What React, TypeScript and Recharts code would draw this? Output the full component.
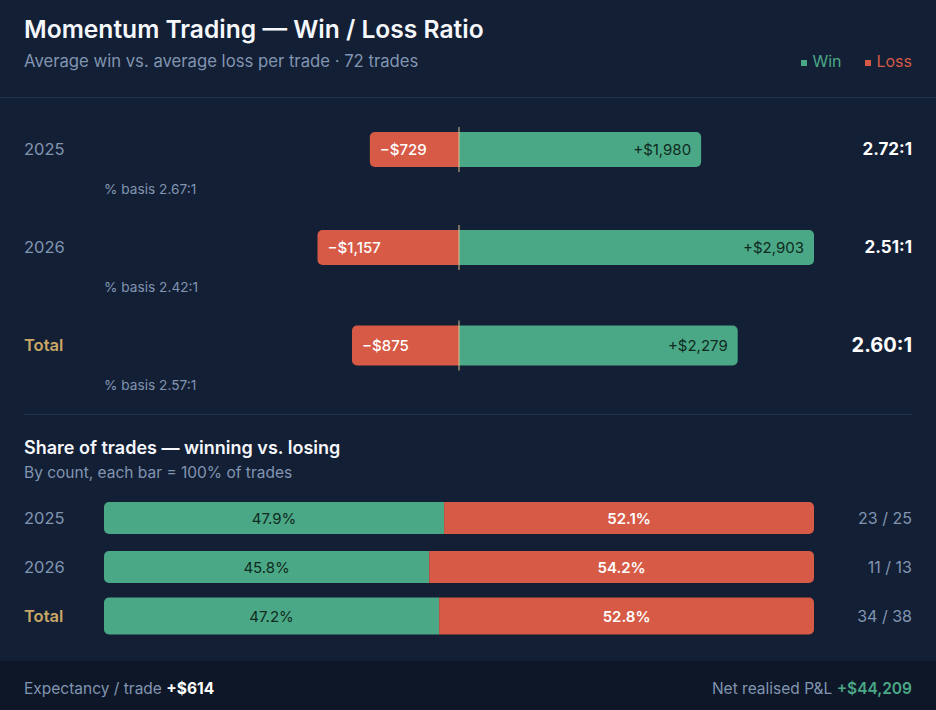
import { BarChart, Bar, XAxis, YAxis } from 'recharts'

const categories = ['2025', '2026', 'Total']
const avgWin = [1980, 2903, 2279]
const avgLoss = [729, 1157, 875]
const ratios = ['2.72:1', '2.51:1', '2.60:1']
const pctBasis = ['2.67:1', '2.42:1', '2.57:1']
const winShare = [47.9, 45.8, 47.2]
const lossShare = [52.1, 54.2, 52.8]
const winCount = [23, 11, 34]
const lossCount = [25, 13, 38]
const totalTrades = 72
const expectancy = 614
const netPnl = 44209

const BG = '#131f35'
const FOOTER_BG = '#0e1727'
const DIVIDER = '#24324b'
const GREEN = '#4aa886'
const RED = '#d65a46'
const MUTED = '#8195b1'
const GOLD = '#c9a866'
const ZERO_LINE = '#d8c08e'
const FONT = 'Inter, "Noto Sans", sans-serif'

const ratioData = categories.map((name, i) => ({ name, loss: -avgLoss[i], win: avgWin[i] }))
const shareData = categories.map((name, i) => ({ name, win: winShare[i], loss: lossShare[i] }))
const maxAbs = Math.max(...avgWin, ...avgLoss)

const money = (v: number) => `$${Math.abs(v).toLocaleString('en-US')}`

// rect path with separate left / right corner radius
function roundedRect(x: number, y: number, w: number, h: number, rl: number, rr: number) {
  return `M${x + rl},${y} H${x + w - rr} A${rr},${rr} 0 0 1 ${x + w},${y + rr} V${y + h - rr} A${rr},${rr} 0 0 1 ${x + w - rr},${y + h} H${x + rl} A${rl},${rl} 0 0 1 ${x},${y + h - rl} V${y + rl} A${rl},${rl} 0 0 1 ${x + rl},${y} Z`
}

// normalise negative widths and make the Total row a bit taller
// eslint-disable-next-line @typescript-eslint/no-explicit-any
function box(props: any) {
  let { x, y, width, height } = props
  if (width < 0) { x += width; width = -width }
  if (props.payload?.name === 'Total') { y -= 2.5; height += 5 }
  return { x, y, width, height }
}

// eslint-disable-next-line @typescript-eslint/no-explicit-any
function LossShape(props: any) {
  const { x, y, width, height } = box(props)
  return (
    <g>
      <path d={roundedRect(x, y, width, height, 5, 0)} fill={RED} />
      <text x={x + 10} y={y + height / 2} dominantBaseline="central" fill="#fff" fontSize={15} fontWeight={500} fontFamily={FONT}>
        {`−${money(props.payload.loss)}`}
      </text>
    </g>
  )
}

// eslint-disable-next-line @typescript-eslint/no-explicit-any
function WinShape(props: any) {
  const { x, y, width, height } = box(props)
  return (
    <g>
      <path d={roundedRect(x, y, width, height, 0, 5)} fill={GREEN} />
      <text x={x + width - 10} y={y + height / 2} dominantBaseline="central" textAnchor="end" fill="#0f2a20" fontSize={15} fontFamily={FONT}>
        {`+${money(props.payload.win)}`}
      </text>
      <line x1={x} x2={x} y1={y - 5} y2={y + height + 5} stroke={ZERO_LINE} strokeWidth={1} />
    </g>
  )
}

// eslint-disable-next-line @typescript-eslint/no-explicit-any
function ShareWinShape(props: any) {
  const { x, y, width, height } = box(props)
  return (
    <g>
      <path d={roundedRect(x, y, width, height, 5, 0)} fill={GREEN} />
      <text x={x + width / 2} y={y + height / 2} dominantBaseline="central" textAnchor="middle" fill="#0f2a20" fontSize={15} fontFamily={FONT}>
        {`${props.payload.win.toFixed(1)}%`}
      </text>
    </g>
  )
}

// eslint-disable-next-line @typescript-eslint/no-explicit-any
function ShareLossShape(props: any) {
  const { x, y, width, height } = box(props)
  return (
    <g>
      <path d={roundedRect(x, y, width, height, 0, 5)} fill={RED} />
      <text x={x + width / 2} y={y + height / 2} dominantBaseline="central" textAnchor="middle" fill="#fff" fontSize={15} fontWeight={600} fontFamily={FONT}>
        {`${props.payload.loss.toFixed(1)}%`}
      </text>
    </g>
  )
}

// eslint-disable-next-line @typescript-eslint/no-explicit-any
function RatioTick({ y, payload }: any) {
  const i = categories.indexOf(payload.value)
  const total = payload.value === 'Total'
  return (
    <g fontFamily={FONT}>
      <text x={24} y={y} dominantBaseline="central" fill={total ? GOLD : MUTED} fontSize={16.5} fontWeight={total ? 600 : 400}>{payload.value}</text>
      <text x={104} y={y + 40} dominantBaseline="central" fill={MUTED} fontSize={13.7}>{`% basis ${pctBasis[i]}`}</text>
      <text x={912} y={y} dominantBaseline="central" textAnchor="end" fill="#fff" fontSize={total ? 20 : 17} fontWeight={700}>{ratios[i]}</text>
    </g>
  )
}

// eslint-disable-next-line @typescript-eslint/no-explicit-any
function ShareTick({ y, payload }: any) {
  const i = categories.indexOf(payload.value)
  const total = payload.value === 'Total'
  return (
    <g fontFamily={FONT}>
      <text x={24} y={y} dominantBaseline="central" fill={total ? GOLD : MUTED} fontSize={16.5} fontWeight={total ? 600 : 400}>{payload.value}</text>
      <text x={912} y={y} dominantBaseline="central" textAnchor="end" fill={MUTED} fontSize={16}>{`${winCount[i]} / ${lossCount[i]}`}</text>
    </g>
  )
}

export default function App() {
  return (
    <div style={{ position: 'relative', width: 936, height: 710, background: BG, fontFamily: FONT, overflow: 'hidden' }}>
      <style>{'body{margin:0}'}</style>

      <div style={{ position: 'absolute', left: 24, top: 14, fontSize: 24.6, lineHeight: '30px', fontWeight: 600, color: '#f5f7fb' }}>
        Momentum Trading — Win / Loss Ratio
      </div>
      <div style={{ position: 'absolute', left: 24, top: 50, fontSize: 16.7, lineHeight: '22px', color: MUTED }}>
        {`Average win vs. average loss per trade · ${totalTrades} trades`}
      </div>
      <div style={{ position: 'absolute', right: 24, top: 50, fontSize: 16, lineHeight: '22px', display: 'flex', gap: 24 }}>
        <span style={{ color: GREEN }}><span style={{ display: 'inline-block', width: 6, height: 6, background: GREEN, marginRight: 5, verticalAlign: 'middle' }} />Win</span>
        <span style={{ color: RED }}><span style={{ display: 'inline-block', width: 6, height: 6, background: RED, marginRight: 5, verticalAlign: 'middle' }} />Loss</span>
      </div>
      <div style={{ position: 'absolute', left: 0, right: 0, top: 97, height: 1, background: DIVIDER }} />

      <div style={{ position: 'absolute', left: 0, top: 100 }}>
        <BarChart width={936} height={294} data={ratioData} layout="vertical" stackOffset="sign" margin={{ top: 0, right: 122, bottom: 0, left: 24 }}>
          <XAxis type="number" domain={[-maxAbs, maxAbs]} hide />
          <YAxis type="category" dataKey="name" width={80} axisLine={false} tickLine={false} tick={(p) => <RatioTick {...p} />} />
          <Bar dataKey="loss" stackId="r" barSize={35} shape={(p: unknown) => <LossShape {...(p as object)} />} isAnimationActive={false} />
          <Bar dataKey="win" stackId="r" barSize={35} shape={(p: unknown) => <WinShape {...(p as object)} />} isAnimationActive={false} />
        </BarChart>
      </div>

      <div style={{ position: 'absolute', left: 24, right: 24, top: 414, height: 1, background: DIVIDER }} />
      <div style={{ position: 'absolute', left: 24, top: 436, fontSize: 18, lineHeight: '24px', fontWeight: 600, color: '#f5f7fb' }}>
        Share of trades — winning vs. losing
      </div>
      <div style={{ position: 'absolute', left: 24, top: 463, fontSize: 15.5, lineHeight: '20px', color: MUTED }}>
        By count, each bar = 100% of trades
      </div>

      <div style={{ position: 'absolute', left: 0, top: 493 }}>
        <BarChart width={936} height={147} data={shareData} layout="vertical" margin={{ top: 0, right: 122, bottom: 0, left: 24 }}>
          <XAxis type="number" domain={[0, 100]} hide />
          <YAxis type="category" dataKey="name" width={80} axisLine={false} tickLine={false} tick={(p) => <ShareTick {...p} />} />
          <Bar dataKey="win" stackId="s" barSize={32} shape={(p: unknown) => <ShareWinShape {...(p as object)} />} isAnimationActive={false} />
          <Bar dataKey="loss" stackId="s" barSize={32} shape={(p: unknown) => <ShareLossShape {...(p as object)} />} isAnimationActive={false} />
        </BarChart>
      </div>

      <div style={{ position: 'absolute', left: 0, right: 0, top: 661, bottom: 0, background: FOOTER_BG, display: 'flex', alignItems: 'center', justifyContent: 'space-between', padding: '5px 24px 0', fontSize: 15.5, color: MUTED }}>
        <span>Expectancy / trade <b style={{ color: '#fff', fontWeight: 700 }}>{`+${money(expectancy)}`}</b></span>
        <span>Net realised P&amp;L <span style={{ color: GREEN, fontWeight: 600 }}>{`+${money(netPnl)}`}</span></span>
      </div>
    </div>
  )
}
